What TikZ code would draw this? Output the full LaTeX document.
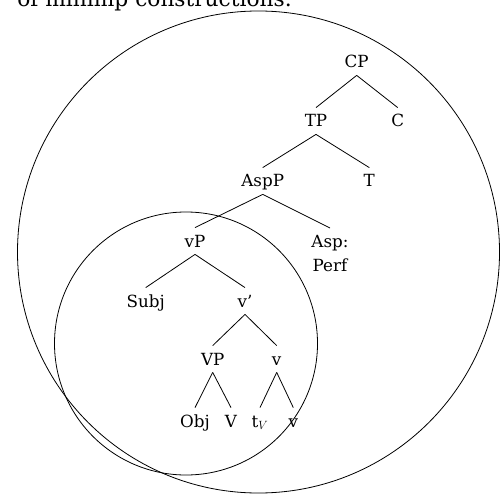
\documentclass[tikz,border=0pt]{standalone}
\usepackage{fontspec}
\setmainfont{DejaVu Serif}

\tikzset{
  word/.style={font=\fontsize{16.8}{23.7}\selectfont},
  lbl/.style={word,anchor=base,inner sep=3bp,text height=16bp,text depth=4bp},
}

\begin{document}
\begin{tikzpicture}[x=1bp,y=-1bp,line width=0.8bp]
				\useasboundingbox (0,0) rectangle (501,494);
				\node[anchor=base west,inner sep=0,font=\fontsize{21.8}{26}\selectfont] (cap) at (17,6.5) {of minimp constructions.};
				\draw (258.5,252) circle [radius=241bp];
				\draw (186,343.5) circle [radius=131.5bp];
				\node[lbl] (cp) at (356.7,68) {CP};
				\node[lbl] (tp) at (316,127) {TP};
				\node[lbl] (c) at (397.7,127) {C};
				\node[lbl] (aspp) at (262.7,187) {AspP};
				\node[lbl] (t) at (369.3,187) {T};
				\node[lbl] (vp) at (195,247) {vP};
				\node[word,anchor=north,inner sep=0,align=center] (asp) at (330,228) {\rule{0pt}{19bp}Asp:\\Perf};
				\node[lbl] (subj) at (145.7,307) {Subj};
				\node[lbl] (vbar) at (245,307) {v'};
				\node[lbl] (vpbig) at (212.7,365) {VP};
				\node[lbl] (vhead) at (276.7,365) {v};
				\node[lbl] (obj) at (195,427) {Obj};
				\node[lbl] (verb) at (231,427) {V};
				\node[lbl] (trace) at (260,427) {t$_V$};
				\node[lbl] (vlow) at (293.3,427) {v};
				\draw (cp.south) -- (tp.north);
				\draw (cp.south) -- (c.north);
				\draw (tp.south) -- (aspp.north);
				\draw (tp.south) -- (t.north);
				\draw (aspp.south) -- (vp.north);
				\draw (aspp.south) -- (asp.north);
				\draw (vp.south) -- (subj.north);
				\draw (vp.south) -- (vbar.north);
				\draw (vbar.south) -- (vpbig.north);
				\draw (vbar.south) -- (vhead.north);
				\draw (vpbig.south) -- (obj.north);
				\draw (vpbig.south) -- (verb.north);
				\draw (vhead.south) -- (trace.north);
				\draw (vhead.south) -- (vlow.north);
			\end{tikzpicture}
\end{document}
